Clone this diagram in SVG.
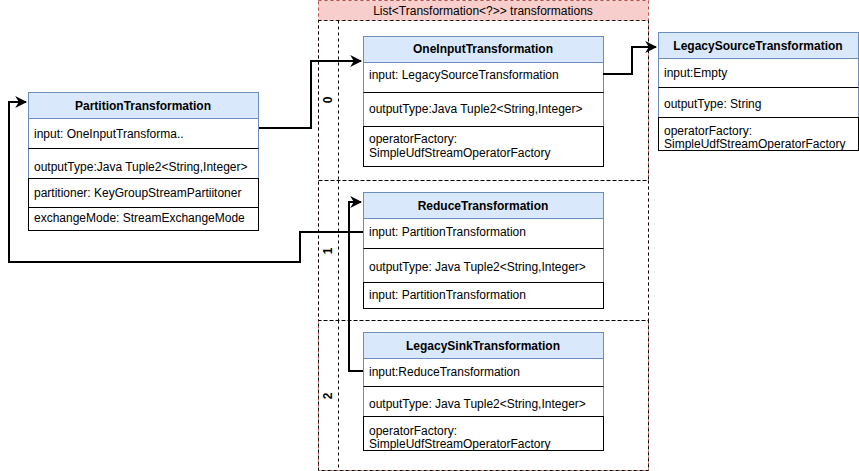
<svg xmlns="http://www.w3.org/2000/svg" width="859" height="471" viewBox="0 0 859 471">
<style>
text{font-family:"Liberation Sans",Arial,Helvetica,sans-serif;font-size:12px;fill:#000}
.h{font-weight:bold;text-anchor:middle}
.lane{fill:none;stroke:#000;stroke-dasharray:3 3}
.sw{fill:#fff;stroke:#6c8ebf}
.hd{fill:#dae8fc;stroke:#6c8ebf}
.row{fill:#fff;stroke:#000}
.ln{stroke:#000}
.edge{fill:none;stroke:#000;stroke-width:2}
</style>
<defs>
<marker id="arr" viewBox="0 0 10 10" refX="9" refY="5" markerWidth="6" markerHeight="6" orient="auto" markerUnits="strokeWidth">
<path d="M0,0 L10,5 L0,10 L3,5 Z" fill="#000"/>
</marker>
</defs>
<rect width="859" height="471" fill="#fff"/>
<g id="container">
<rect x="318.5" y="0.5" width="330" height="470" fill="none" stroke="#b85450" stroke-dasharray="3 3"/>
<rect x="318.5" y="0.5" width="330" height="20" fill="#f8cecc" stroke="#b85450" stroke-dasharray="3 3"/>
<text x="483" y="15" text-anchor="middle">List&lt;Transformation&lt;?&gt;&gt; transformations</text>
<g id="lane0">
<rect class="lane" x="318.5" y="20.5" width="330" height="160"/>
<line class="lane" x1="338.5" y1="20.5" x2="338.5" y2="180.5"/>
<text class="h" transform="translate(332,100) rotate(-90)">0</text>
</g>
<g id="lane1">
<rect class="lane" x="318.5" y="180.5" width="330" height="140"/>
<line class="lane" x1="338.5" y1="180.5" x2="338.5" y2="320.5"/>
<text class="h" transform="translate(332,251) rotate(-90)">1</text>
</g>
<g id="lane2">
<rect class="lane" x="318.5" y="320.5" width="330" height="150"/>
<line class="lane" x1="338.5" y1="320.5" x2="338.5" y2="470.5"/>
<text class="h" transform="translate(332,396) rotate(-90)">2</text>
</g>
</g>
<g id="partition">
<rect class="sw" x="28.5" y="92.5" width="230" height="86"/>
<rect class="hd" x="28.5" y="92.5" width="230" height="26"/>
<line class="ln" x1="28.5" y1="148.5" x2="258.5" y2="148.5"/>
<rect class="row" x="28.5" y="178.5" width="230" height="29"/>
<rect class="row" x="28.5" y="207.5" width="230" height="23"/>
<text class="h" x="143" y="110">PartitionTransformation</text>
<text x="34" y="138">input: OneInputTransforma..</text>
<text x="34" y="171">outputType:Java Tuple2&lt;String,Integer&gt;</text>
<text x="34" y="197">partitioner: KeyGroupStreamPartiitoner</text>
<text x="34" y="222">exchangeMode: StreamExchangeMode</text>
</g>
<g id="oneinput">
<rect class="sw" x="363.5" y="36.5" width="240" height="90"/>
<rect class="hd" x="363.5" y="36.5" width="240" height="26"/>
<line class="ln" x1="363.5" y1="92.5" x2="603.5" y2="92.5"/>
<rect class="row" x="363.5" y="126.5" width="240" height="40"/>
<text class="h" x="483" y="53">OneInputTransformation</text>
<text x="369" y="79">input: LegacySourceTransformation</text>
<text x="369" y="113">outputType:Java Tuple2&lt;String,Integer&gt;</text>
<text x="369" y="143">operatorFactory:</text>
<text x="369" y="157">SimpleUdfStreamOperatorFactory</text>
</g>
<g id="legacysource">
<rect class="sw" x="658.5" y="32.5" width="200" height="85"/>
<rect class="hd" x="658.5" y="32.5" width="200" height="26"/>
<line class="ln" x1="658.5" y1="87.5" x2="858.5" y2="87.5"/>
<rect class="row" x="658.5" y="117.5" width="200" height="33"/>
<text class="h" x="758" y="50">LegacySourceTransformation</text>
<text x="664" y="77">input:Empty</text>
<text x="664" y="108">outputType: String</text>
<text x="664" y="135">operatorFactory:</text>
<text x="664" y="148">SimpleUdfStreamOperatorFactory</text>
</g>
<g id="reduce">
<rect class="sw" x="363.5" y="192.5" width="240" height="90"/>
<rect class="hd" x="363.5" y="192.5" width="240" height="26"/>
<line class="ln" x1="363.5" y1="248.5" x2="603.5" y2="248.5"/>
<rect class="row" x="363.5" y="282.5" width="240" height="26"/>
<text class="h" x="483" y="210">ReduceTransformation</text>
<text x="369" y="236">input: PartitionTransformation</text>
<text x="369" y="271">outputType: Java Tuple2&lt;String,Integer&gt;</text>
<text x="369" y="299">input: PartitionTransformation</text>
</g>
<g id="legacysink">
<rect class="sw" x="363.5" y="332.5" width="240" height="84"/>
<rect class="hd" x="363.5" y="332.5" width="240" height="26"/>
<line class="ln" x1="363.5" y1="386.5" x2="603.5" y2="386.5"/>
<rect class="row" x="363.5" y="416.5" width="240" height="34"/>
<text class="h" x="483" y="350">LegacySinkTransformation</text>
<text x="369" y="376">input:ReduceTransformation</text>
<text x="369" y="408">outputType: Java Tuple2&lt;String,Integer&gt;</text>
<text x="369" y="435">operatorFactory:</text>
<text x="369" y="448">SimpleUdfStreamOperatorFactory</text>
</g>
<g id="connectors">
<path class="edge" d="M259,128 H311 V61 H361" marker-end="url(#arr)"/>
<path class="edge" d="M603,74 H632 V47 H656" marker-end="url(#arr)"/>
<path class="edge" d="M363,232 H300 V262 H9 V102 H26" marker-end="url(#arr)"/>
<path class="edge" d="M363,371 H349 V202 H361" marker-end="url(#arr)"/>
</g>
</svg>
